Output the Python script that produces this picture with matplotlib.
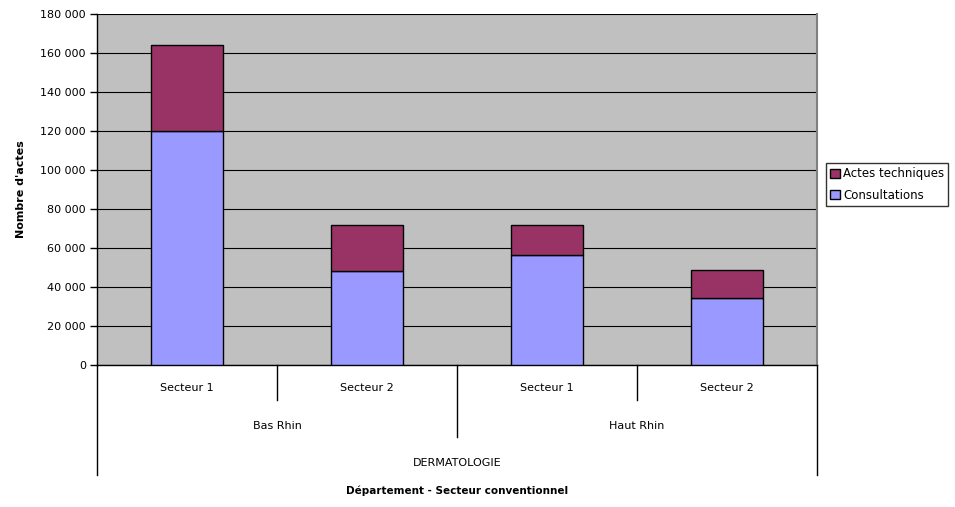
import matplotlib
matplotlib.use('Agg')
import matplotlib.pyplot as plt
from matplotlib.ticker import FuncFormatter, MultipleLocator

# données
secteurs = ['Secteur 1', 'Secteur 2', 'Secteur 1', 'Secteur 2']
departements = ['Bas Rhin', 'Haut Rhin']
specialite = 'DERMATOLOGIE'
consultations = [119800, 48000, 56300, 34500]
actes_techniques = [44400, 24000, 15500, 14000]

plt.rcParams['font.family'] = ['DejaVu Sans']

fig = plt.figure(figsize=(9.55, 5.07), dpi=100)
ax = fig.add_axes([97 / 955, 1 - 365 / 507, 720 / 955, 351 / 507])
ax.set_facecolor('#C0C0C0')

x = list(range(len(secteurs)))
ax.bar(x, consultations, width=0.4, color='#9999FF', edgecolor='black', linewidth=1,
       label='Consultations', zorder=3)
ax.bar(x, actes_techniques, width=0.4, bottom=consultations, color='#993366',
       edgecolor='black', linewidth=1, label='Actes techniques', zorder=3)

ax.set_xlim(-0.5, 3.5)
ax.set_ylim(0, 180000)
ax.yaxis.set_major_locator(MultipleLocator(20000))
ax.yaxis.set_major_formatter(FuncFormatter(lambda v, p: f'{int(v):,}'.replace(',', ' ')))
ax.grid(axis='y', color='black', linewidth=0.8, zorder=1)
ax.set_axisbelow(True)
ax.tick_params(axis='y', direction='out', length=5, width=1, labelsize=8, pad=3)
ax.set_xticks([])

ax.spines['top'].set_visible(False)
ax.spines['right'].set_color('#808080')
ax.spines['right'].set_linewidth(1.5)
ax.spines['left'].set_linewidth(1)
ax.spines['bottom'].set_linewidth(1)

ax.set_ylabel("Nombre d'actes", fontsize=8, fontweight='bold', labelpad=10)

# axe des catégories à plusieurs niveaux
tr = ax.get_xaxis_transform()
h = 351.0
def vline(xd, px):
    ax.plot([xd, xd], [0, -px / h], color='black', linewidth=1, transform=tr, clip_on=False)

vline(0.5, 35)
vline(2.5, 35)
vline(1.5, 72)
vline(-0.5, 110)
vline(3.5, 110)

for i, s in enumerate(secteurs):
    ax.text(i, -23 / h, s, transform=tr, ha='center', va='center', fontsize=8)
for j, d in enumerate(departements):
    ax.text(0.5 + 2 * j, -61 / h, d, transform=tr, ha='center', va='center', fontsize=8)
ax.text(1.5, -98 / h, specialite, transform=tr, ha='center', va='center', fontsize=8)
ax.text(1.5, -126 / h, 'Département - Secteur conventionnel', transform=tr,
        ha='center', va='center', fontsize=7.5, fontweight='bold')

handles, labels = ax.get_legend_handles_labels()
leg = fig.legend(handles[::-1], labels[::-1], loc='upper left',
                 bbox_to_anchor=(826 / 955, 1 - 163 / 507), fontsize=8.5, frameon=True,
                 fancybox=False, edgecolor='black', handlelength=0.8, handleheight=0.8,
                 handletextpad=0.3, borderpad=0.35, labelspacing=0.75, borderaxespad=0)
leg.get_frame().set_linewidth(1)

fig.savefig('out.png', dpi=100)
